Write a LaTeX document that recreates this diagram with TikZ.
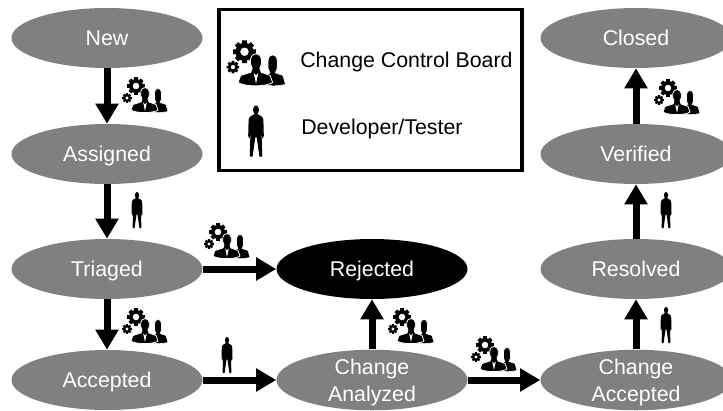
\documentclass[tikz,border=0pt]{standalone}
\usepackage{fontspec}
\setmainfont{Liberation Sans}
\usetikzlibrary{shapes.geometric,arrows.meta}
\newcommand{\gearshape}[6]{% cx cy outer inner hole step
  \fill[black,even odd rule,shift={(#1,#2)}] (-#6*0.26:#3)
    \foreach \a in {0,#6,...,359} { -- (\a-#6*0.26:#3) -- (\a+#6*0.26:#3) -- (\a+#6*0.36:#4) -- (\a+#6*0.64:#4) }
    -- cycle (0,0) circle[radius=#5];
}
\tikzset{
  x=0.75pt,y=-0.75pt,
  stateshape/.style={ellipse,fill=#1,draw=none,minimum width=143.25pt,minimum height=45pt,inner sep=0pt,
    text=white,align=center,text depth=0pt,font=\fontsize{16}{20.5}\selectfont},
  stategray/.style={stateshape=gray50},
  stateblack/.style={stateshape=black},
  flow/.style={line width=5.25pt,draw=black,-{Triangle[length=15pt,width=16.5pt]}},
  legendtext/.style={anchor=west,inner sep=0pt,font=\fontsize{16}{20}\selectfont,text=black},
  pics/team/.style={code={
    \gearshape{-9}{-8}{9}{7}{3.4}{45}
    \gearshape{-18}{4}{5}{3.8}{1.8}{45}
    % woman
    \fill[black,draw=white,line width=0.4pt] (6,17.5) -- (7,11) -- (11,8.5) -- (9.5,5) -- (9.5,-1) .. controls (9.5,-7) and (16.5,-7) .. (16.5,-1) -- (16.5,5) -- (15,8.5) -- (21,10.5) -- (23,17.5) .. controls (16,19) and (10,19) .. (6,17.5) -- cycle;
    % man
    \fill[black,draw=white,line width=0.6pt] (-14,16) -- (-12,10.5) -- (-4,8) -- (-3,5) .. controls (-5.5,1) and (-5,-6.5) .. (0,-6.5) .. controls (5,-6.5) and (5.5,1) .. (3,5) -- (4,8) -- (11,10.5) -- (13,16) .. controls (8,19.5) and (-9,19.5) .. (-14,16) -- cycle;
    \fill[white] (-1.8,8.6) -- (0,17) -- (1.8,8.6) -- (0,10.5) -- cycle;
  }},
  pics/person/.style={code={
    \fill[black] (0,-14.8) ellipse[x radius=2.1,y radius=3.2];
    \fill[black] (-1,-12) -- (-4.3,-10) -- (-5.2,-8) -- (-5.5,3.5) -- (-4.5,5.5) -- (-3.9,1) -- (-4.4,18) -- (-2.4,18) -- (-0.5,4.5) -- (0.5,4.5) -- (2.4,18) -- (4.4,18) -- (3.9,1) -- (4.5,5.5) -- (5.5,3.5) -- (5.2,-8) -- (4.3,-10) -- (1,-12) -- cycle;
  }}
}
\colorlet{gray50}{black!50}
\begin{document}
\begin{tikzpicture}
\useasboundingbox (0,0) rectangle (723,410);
\node[stategray] (new) at (107,38) {New};
\node[stategray] (assigned) at (107,154) {Assigned};
\node[stategray] (triaged) at (107,269) {Triaged};
\node[stategray] (accepted) at (107,380) {Accepted};
\node[stateblack] (rejected) at (372,269) {Rejected};
\node[stategray] (analyzed) at (372,380) {Change\\Analyzed};
\node[stategray] (closed) at (636,38) {Closed};
\node[stategray] (verified) at (636,154) {Verified};
\node[stategray] (resolved) at (636,269) {Resolved};
\node[stategray] (caccepted) at (636,380) {Change\\Accepted};
\draw[flow] (new) -- (assigned);
\draw[flow] (assigned) -- (triaged);
\draw[flow] (triaged) -- (accepted);
\draw[flow] (triaged) -- (rejected);
\draw[flow] (accepted) -- (analyzed);
\draw[flow] (analyzed) -- (rejected);
\draw[flow] (analyzed) -- (caccepted);
\draw[flow] (caccepted) -- (resolved);
\draw[flow] (resolved) -- (verified);
\draw[flow] (verified) -- (closed);
\node[draw=black,line width=2.6pt,fill=white,minimum width=227.5pt,minimum height=121pt,inner sep=0pt] (legend) at (370.5,90) {};
\node[legendtext] (ccb) at (300,62) {Change Control Board};
\node[legendtext] (dev) at (301,129) {Developer/Tester};
\pic[scale=1.28] at (256,62) {team};
\pic[scale=1.42] at (256,131) {person};
\pic at (145,94) {team};
\pic at (227,240) {team};
\pic at (145,325) {team};
\pic at (411,325) {team};
\pic at (494,353) {team};
\pic at (677,96) {team};
\pic at (137,210) {person};
\pic at (227,355) {person};
\pic at (666,210) {person};
\pic at (666,325) {person};
\end{tikzpicture}
\end{document}
